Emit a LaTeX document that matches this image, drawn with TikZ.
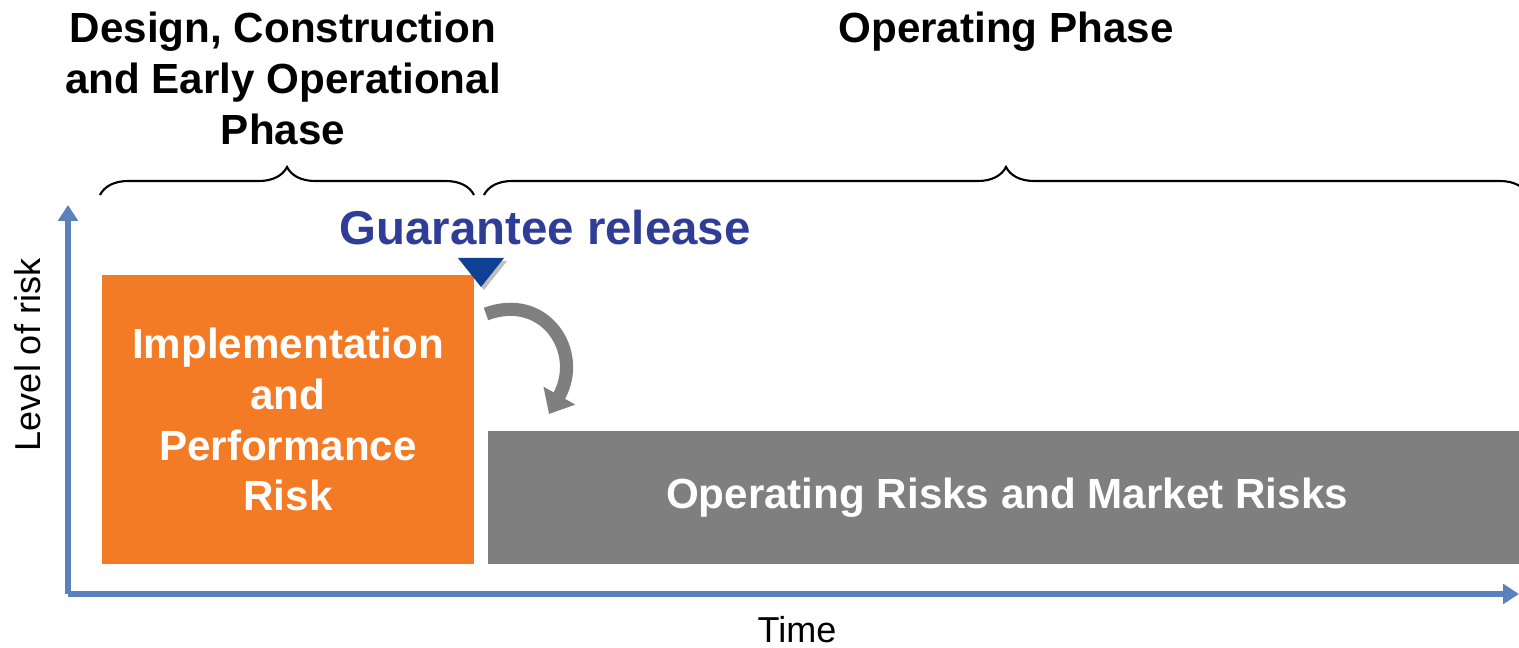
\documentclass[tikz,border=0pt]{standalone}
\usepackage{fontspec}
\setmainfont{Liberation Sans}
\usepackage{tikz}
\usetikzlibrary{%
	arrows.meta,%
	positioning,% wg. " of "
	decorations.pathreplacing,% brace
	calc
}
\definecolor{riskorange}{HTML}{F47B25}
\definecolor{riskgray}{HTML}{7F7F7F}
\definecolor{axisblue}{HTML}{5B80BE}
\definecolor{releaseblue}{HTML}{2F3D96}
\definecolor{markerblue}{HTML}{0E4194}
\tikzstyle{axis} = [draw = axisblue, line width = 3.2pt, -{Triangle[length=9pt,width=11pt]}]
\tikzstyle{riskbox} = [rectangle, inner sep = 0pt, text = white, align = center, font = \bfseries\fontsize{24}{29}\selectfont]
\tikzstyle{phase} = [align = center, font = \bfseries\fontsize{24}{29}\selectfont]
\tikzstyle{bracket} = [draw, line width = 1.2pt, decorate, decoration = {brace, amplitude = 0.56cm}]
\tikzstyle{axislabel} = [font = \fontsize{20.5}{24}\selectfont]
\tikzstyle{riskshift} = [draw = riskgray, line width = 7.5pt, -{Triangle[length=12pt,width=20pt]}]

\begin{document}
\begin{tikzpicture}[x=0.02cm, y=-0.02cm]
	\useasboundingbox (0,0) rectangle (1519,648);
	
	% First we draw the risk boxes
	\node[riskbox, fill = riskorange, minimum width = 7.44cm, minimum height = 5.78cm] (impl) at (288,419.5) {Implementation\\and\\Performance\\Risk};
	\node[riskbox, fill = riskgray, minimum width = 20.76cm, minimum height = 2.66cm] (oper) at (1007,497.5) {Operating Risks and Market Risks};
	
	% Axes
	\coordinate (origin) at (68,594);
	\coordinate (ytop) at (68,205);
	\coordinate (xend) at (1519,594);
	\draw[axis] (origin) -- (ytop);
	\draw[axis] (origin) -- (xend);
	\node[axislabel, rotate = 90] (risk) at (28,355) {Level of risk};
	\node[axislabel] (time) at (797,630) {Time};
	
	% Phases with their braces
	\node[phase] (early) at (283,78) {Design, Construction\\and Early Operational\\Phase};
	\node[phase] (operphase) at (1006,32) {Operating Phase};
	\foreach \from/\to in {100/474, 484/1528}
	\path[bracket] (\from,195) -- (\to,195);
	
	% Guarantee release marker
	\node[font = \bfseries\fontsize{27}{32}\selectfont, text = releaseblue] (guar) at (545,228) {Guarantee release};
	\fill[black, opacity = 0.25] (461,261) -- (507,261) -- (484,290) -- cycle;
	\fill[markerblue] (458,258) coordinate (mleft) -- (504,258) -- (481,287) coordinate (mtip) -- cycle;
	
	% Shift of the risk
	\coordinate (turnstart) at (486,314);
	\coordinate (turnend) at (549,414);
	\path[riskshift] (turnstart) .. controls (545,292) and (584,352) .. (turnend);
	
\end{tikzpicture}
\end{document}
